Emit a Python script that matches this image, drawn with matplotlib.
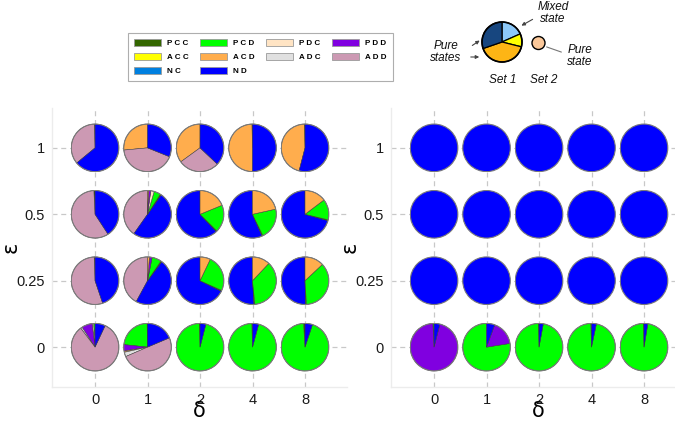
import matplotlib
matplotlib.use("Agg")
import matplotlib.pyplot as plt
from matplotlib.patches import Patch, Circle, Wedge

plt.rcParams['font.family'] = ['Liberation Sans', 'DejaVu Sans']

# ---------------- data ----------------
categories = ['PCC', 'PCD', 'PDC', 'PDD', 'ACC', 'ACD', 'ADC', 'ADD', 'NC', 'ND']
cat_colors = ['#336600', '#00ff00', '#ffe4c4', '#8000e0', '#ffff00',
              '#ffad4d', '#e0e0e0', '#cc99b3', '#0080e0', '#0000ff']
delta_labels = ['0', '1', '2', '4', '8']
eps_labels = ['0', '0.25', '0.5', '1']

# Set 1 (left panel): percentages per pie, one list per epsilon row (delta = 0,1,2,4,8)
set1_eps0 = [
    {'PCD': 1.0, 'PDC': 1.0, 'PDD': 7.2, 'ADC': 1.1, 'ADD': 82.7, 'ND': 7.0},
    {'PCC': 0.3, 'PCD': 23.0, 'PDD': 4.4, 'ACD': 0.8, 'ADC': 3.0, 'ADD': 49.9, 'ND': 18.6},
    {'PCC': 0.5, 'PCD': 95.5, 'ND': 4.0},
    {'PCC': 0.5, 'PCD': 95.3, 'ND': 4.2},
    {'PCC': 1.0, 'PCD': 93.9, 'ND': 5.1},
]
set1_eps025 = [
    {'PCC': 0.6, 'ADD': 54.6, 'ND': 44.8},
    {'ADD': 42.1, 'ND': 47.7, 'PCC': 0.7, 'PCD': 6.4, 'PDD': 1.8, 'ACD': 1.3},
    {'ND': 67.7, 'PCC': 0.6, 'PCD': 24.6, 'ACD': 7.1},
    {'ND': 51.0, 'PCC': 0.6, 'PCD': 36.4, 'ACD': 12.0},
    {'ND': 50.4, 'PCC': 0.6, 'PCD': 36.0, 'ACD': 13.0},
]
set1_eps05 = [
    {'PCC': 0.8, 'ADD': 58.4, 'ND': 40.8},
    {'ADD': 40.2, 'ND': 50.0, 'PCC': 0.7, 'PCD': 4.5, 'PDC': 2.3, 'PDD': 1.5, 'ACD': 0.7},
    {'ND': 62.0, 'PCC': 0.6, 'PCD': 18.6, 'ACD': 18.8},
    {'ND': 56.6, 'PCC': 0.6, 'PCD': 21.3, 'ACD': 21.5},
    {'ND': 70.7, 'PCC': 0.6, 'PCD': 14.0, 'ACD': 14.7},
]
set1_eps1 = [
    {'PCC': 0.5, 'ADD': 35.5, 'ND': 64.0},
    {'ACD': 26.5, 'ADD': 42.4, 'ND': 31.1},
    {'ACD': 35.0, 'ADD': 28.0, 'ND': 37.0},
    {'PCC': 0.4, 'ACD': 49.6, 'ND': 50.0},
    {'PCC': 0.5, 'ACD': 45.5, 'ND': 54.0},
]
# category at which each pie starts (counter-clockwise from 12 o'clock)
set1_start_eps0 = ['PCC', 'PCC', 'PCC', 'PCC', 'PCC']
set1_start_eps025 = ['PCC', 'ADD', 'ND', 'ND', 'ND']
set1_start_eps05 = ['PCC', 'ADD', 'ND', 'ND', 'ND']
set1_start_eps1 = ['PCC', 'PCC', 'PCC', 'PCC', 'PCC']

# Set 2 (right panel)
set2_eps0 = [
    {'PCD': 0.8, 'PDD': 95.2, 'ND': 4.0},
    {'PCD': 77.5, 'PDD': 16.9, 'ND': 5.6},
    {'PCC': 0.5, 'PCD': 96.6, 'ND': 2.9},
    {'PCC': 0.5, 'PCD': 96.2, 'ND': 3.3},
    {'PCC': 0.5, 'PCD': 96.9, 'ND': 2.6},
]
set2_eps025 = [{'ND': 100.0}] * 5
set2_eps05 = [{'ND': 100.0}] * 5
set2_eps1 = [{'ND': 100.0}] * 5
set2_start = ['PCC', 'PCC', 'PCC', 'PCC', 'PCC']

# ---------------- figure ----------------
W, H = 675, 423
fig = plt.figure(figsize=(W / 100, H / 100), dpi=100)

R_PX = 24.5
X_LIM = (-0.82, 4.80)
Y_LIM = (-0.6, 3.6)
AX_W, AX_H = 295, 279


def make_panel(left_px, rows, starts):
    ax = fig.add_axes([left_px / W, (H - 387) / H, AX_W / W, AX_H / H])
    ax.set_xlim(*X_LIM)
    ax.set_ylim(*Y_LIM)
    ax.set_xticks(range(len(delta_labels)))
    ax.set_xticklabels(delta_labels, fontsize=10.5)
    ax.set_yticks(range(len(eps_labels)))
    ax.set_yticklabels(eps_labels, fontsize=10.5)
    ax.tick_params(length=0, pad=5, colors='#1a1a1a')
    ax.tick_params(axis='x', pad=4)
    ax.grid(True, color='#c8c8c8', linestyle=(0, (4, 3)), linewidth=0.9)
    ax.set_axisbelow(True)
    for s in ['top', 'right']:
        ax.spines[s].set_visible(False)
    for s in ['left', 'bottom']:
        ax.spines[s].set_color('#ececec')
        ax.spines[s].set_linewidth(1.0)
    ax.set_xlabel('δ', fontsize=15, family='DejaVu Sans')
    ax.xaxis.set_label_coords(0.5, -0.086)
    ax.xaxis.label.set_va('center')
    ax.set_ylabel('ε', fontsize=15, family='DejaVu Sans')
    ax.yaxis.set_label_coords(-0.14, 0.5)
    ax.yaxis.label.set_va('center')

    px_x = AX_W / (X_LIM[1] - X_LIM[0])
    px_y = AX_H / (Y_LIM[1] - Y_LIM[0])
    wd = 2 * R_PX / px_x
    hd = 2 * R_PX / px_y
    for yi, (row, row_start) in enumerate(zip(rows, starts)):
        for xi, (pie, st) in enumerate(zip(row, row_start)):
            k = categories.index(st)
            order = categories[k:] + categories[:k]
            vals = [pie.get(c, 0.0) for c in order]
            cols = [cat_colors[categories.index(c)] for c in order]
            keep = [(v, c) for v, c in zip(vals, cols) if v > 0]
            iax = ax.inset_axes([xi - wd / 2, yi - hd / 2, wd, hd], transform=ax.transData)
            single = len(keep) == 1
            iax.pie([v for v, _ in keep], colors=[c for _, c in keep], startangle=90,
                    counterclock=True, radius=1,
                    wedgeprops=dict(edgecolor='#3a3a3a', linewidth=0 if single else 0.35))
            iax.add_patch(Circle((0, 0), 1, fill=False, edgecolor='#7a7a7a', linewidth=0.8))
            iax.set_xlim(-1.03, 1.03)
            iax.set_ylim(-1.03, 1.03)
            iax.set_axis_off()
    return ax


make_panel(52, [set1_eps0, set1_eps025, set1_eps05, set1_eps1],
           [set1_start_eps0, set1_start_eps025, set1_start_eps05, set1_start_eps1])
make_panel(391, [set2_eps0, set2_eps025, set2_eps05, set2_eps1],
           [set2_start] * 4)

# ---------------- legend ----------------
col_order = ['PCC', 'ACC', 'NC', 'PCD', 'ACD', 'ND', 'PDC', 'ADC', 'PDD', 'ADD']
handles = [Patch(facecolor=cat_colors[categories.index(c)], edgecolor='#9a9a9a', linewidth=0.6)
           for c in col_order]
labels = [' '.join(c) for c in col_order]
leg = fig.legend(handles, labels, ncol=4, loc='upper left',
                 bbox_to_anchor=(128 / W, 1 - 33 / H), bbox_transform=fig.transFigure,
                 prop=dict(size=5.8, weight='bold'), frameon=True, fancybox=False,
                 edgecolor='#9a9a9a', borderpad=0.75, handlelength=3.4, handleheight=1.0,
                 handletextpad=0.7, labelspacing=0.7, columnspacing=1.4, borderaxespad=0)
leg.get_frame().set_linewidth(0.8)

# ---------------- schematic (top right) ----------------
sx = fig.add_axes([0, 0, 1, 1], zorder=5)
sx.set_xlim(0, W)
sx.set_ylim(0, H)
sx.set_axis_off()
cx, cy, r = 502, H - 42, 20
sx.add_patch(Wedge((cx, cy), r, 24, 90, facecolor='#8cc8f8', edgecolor='black', lw=0.9))
sx.add_patch(Wedge((cx, cy), r, -14, 24, facecolor='#ffff00', edgecolor='black', lw=0.9))
sx.add_patch(Wedge((cx, cy), r, -161, -14, facecolor='#fdb515', edgecolor='black', lw=0.9))
sx.add_patch(Wedge((cx, cy), r, 90, 199, facecolor='#17467f', edgecolor='black', lw=0.9))
sx.add_patch(Circle((cx, cy), r, fill=False, edgecolor='black', lw=1.2))
sx.add_patch(Circle((538.5, H - 43), 6.5, facecolor='#fbc89a', edgecolor='black', lw=1.0))
tkw = dict(fontsize=8.5, style='italic', ha='center', va='center', color='#111111')
sx.text(553, H - 13, 'Mixed\nstate', linespacing=1.0, **tkw)
sx.text(446, H - 52, 'Pure\nstates', linespacing=1.0, **tkw)
sx.text(580, H - 56, 'Pure\nstate', linespacing=1.0, **tkw)
sx.text(503, H - 80, 'Set 1', **tkw)
sx.text(544, H - 80, 'Set 2', **tkw)
akw = dict(arrowstyle='-|>', color='#444444', lw=0.8, mutation_scale=5)
sx.annotate('', xy=(519, H - 27), xytext=(535, H - 18), arrowprops=akw)
sx.annotate('', xy=(482, H - 39), xytext=(470, H - 47), arrowprops=akw)
sx.annotate('', xy=(482, H - 57), xytext=(468, H - 57), arrowprops=akw)
sx.annotate('', xy=(544, H - 46), xytext=(564, H - 53),
            arrowprops=dict(arrowstyle='-', color='#777777', lw=0.8))

fig.savefig('out.png', dpi=100)
